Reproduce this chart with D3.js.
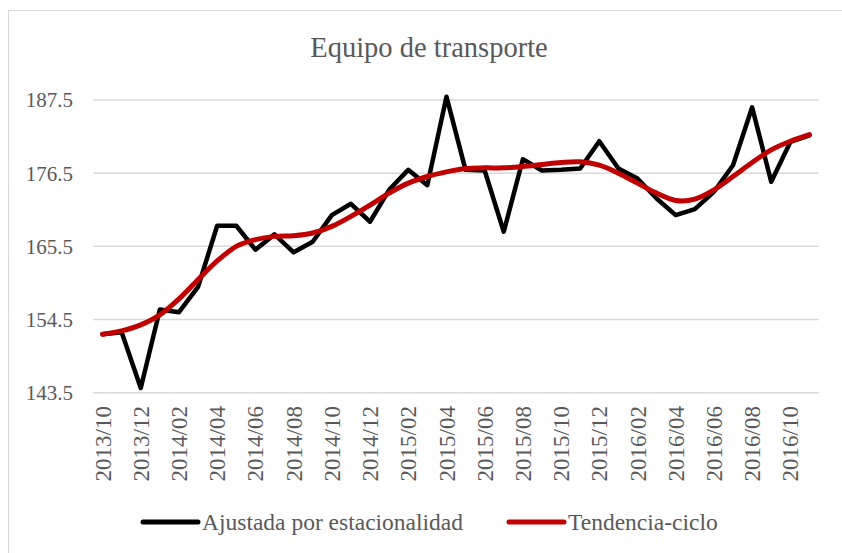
<!DOCTYPE html>
<html>
<head>
<meta charset="utf-8">
<script src="https://cdn.jsdelivr.net/npm/d3@7"></script>
<style>
  body { margin: 0; background: #fff; }
  text { font-family: "Liberation Serif", serif; fill: #595959; }
</style>
</head>
<body>
<div id="chart"></div>
<script>
// months shown on the category axis
var meses = ["2013/10","2013/11","2013/12","2014/01","2014/02","2014/03","2014/04","2014/05","2014/06","2014/07","2014/08","2014/09",
  "2014/10","2014/11","2014/12","2015/01","2015/02","2015/03","2015/04","2015/05","2015/06","2015/07","2015/08","2015/09",
  "2015/10","2015/11","2015/12","2016/01","2016/02","2016/03","2016/04","2016/05","2016/06","2016/07","2016/08","2016/09",
  "2016/10","2016/11"]

var ajustada = [152.3,152.6,144.2,156.0,155.6,159.4,168.6,168.6,165.0,167.3,164.6,166.2,
  170.2,171.9,169.2,174.0,177.0,174.7,188.0,177.0,176.9,167.7,178.6,176.9,
  177.0,177.2,181.3,177.2,175.7,172.7,170.2,171.1,173.7,177.7,186.4,175.2,
  181.2,182.2]

var tendencia = [152.3,152.8,153.7,155.2,157.6,160.5,163.3,165.5,166.5,167.0,167.1,167.5,
  168.5,170.0,171.7,173.5,175.0,176.0,176.7,177.2,177.3,177.3,177.5,177.8,
  178.1,178.2,177.7,176.5,175.0,173.5,172.4,172.6,174.0,176.0,178.1,180.0,
  181.3,182.3]

var yTicks = [143.5, 154.5, 165.5, 176.5, 187.5]

var series = [
  { name: "Ajustada por estacionalidad", values: ajustada, color: "#000000", width: 4.5, curve: d3.curveLinear },
  { name: "Tendencia-ciclo", values: tendencia, color: "#c00000", width: 5, curve: d3.curveCardinal.tension(0) }
]

var W = 842, H = 553

var svg = d3.select("#chart").append("svg")
  .attr("width", W)
  .attr("height", H)

// chart frame
svg.append("rect")
  .attr("x", 8.5).attr("y", 10.5)
  .attr("width", W + 10).attr("height", H + 10)
  .attr("fill", "none")
  .attr("stroke", "#d9d9d9")
  .attr("stroke-width", 1)

var x = d3.scaleBand()
  .domain(meses)
  .range([93, 819])

var y = d3.scaleLinear()
  .domain([143.5, 187.5])
  .range([392.7, 100])

// gridlines
svg.append("g")
  .selectAll("line")
  .data(yTicks)
  .join("line")
  .attr("x1", 93).attr("x2", 819)
  .attr("y1", d => y(d)).attr("y2", d => y(d))
  .attr("stroke", "#d9d9d9")
  .attr("stroke-width", 1.5)

// y labels
svg.append("g")
  .selectAll("text")
  .data(yTicks)
  .join("text")
  .attr("x", 73)
  .attr("y", d => y(d))
  .attr("dy", "0.35em")
  .attr("text-anchor", "end")
  .style("font-size", "21px")
  .text(d => d.toFixed(1))

// x labels, every second month
svg.append("g")
  .selectAll("text")
  .data(meses.filter((d, i) => i % 2 === 0))
  .join("text")
  .attr("transform", d => `translate(${x(d) + x.bandwidth() / 2},406) rotate(-90)`)
  .attr("dy", "0.35em")
  .attr("text-anchor", "end")
  .style("font-size", "23px")
  .text(d => d)

// lines
series.forEach(function (s) {
  var line = d3.line()
    .x((d, i) => x(meses[i]) + x.bandwidth() / 2)
    .y(d => y(d))
    .curve(s.curve)
  svg.append("path")
    .datum(s.values)
    .attr("d", line)
    .attr("fill", "none")
    .attr("stroke", s.color)
    .attr("stroke-width", s.width)
    .attr("stroke-linejoin", "round")
    .attr("stroke-linecap", "round")
})

// title
svg.append("text")
  .attr("x", 429)
  .attr("y", 57)
  .attr("text-anchor", "middle")
  .style("font-size", "28.5px")
  .text("Equipo de transporte")

// legend
var legendPos = [143, 509]
var legend = svg.append("g")
  .selectAll("g")
  .data(series)
  .join("g")
  .attr("transform", (d, i) => `translate(${legendPos[i]},522)`)

legend.append("line")
  .attr("x1", 0).attr("x2", 55)
  .attr("stroke", d => d.color)
  .attr("stroke-width", 5)
  .attr("stroke-linecap", "round")

legend.append("text")
  .attr("x", 59)
  .attr("dy", "0.35em")
  .style("font-size", "23.5px")
  .text(d => d.name)
</script>
</body>
</html>
